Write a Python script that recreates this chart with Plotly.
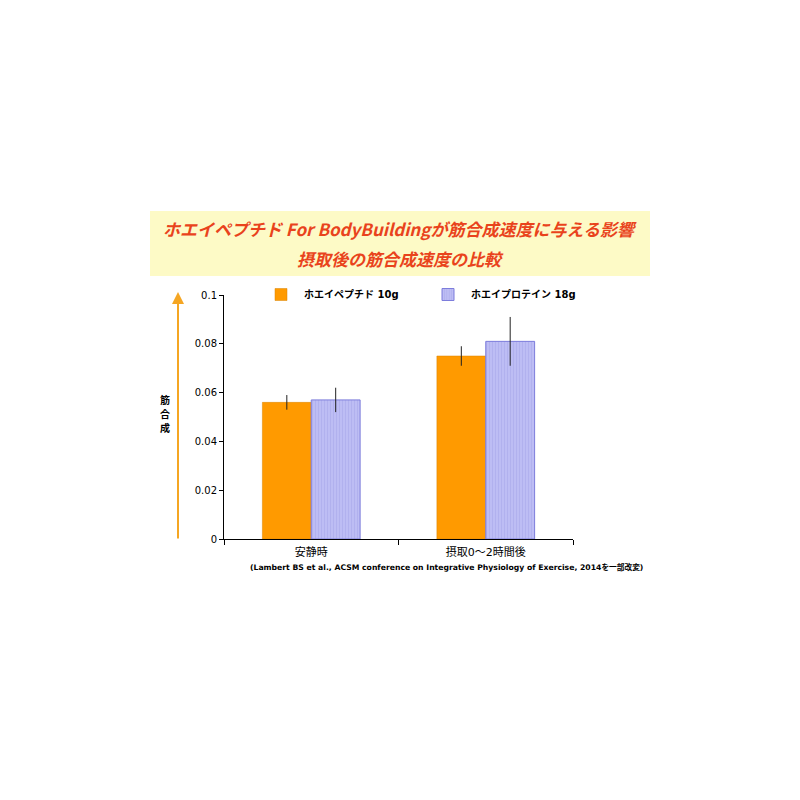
import plotly.graph_objects as go

# data
categories = ['安静時', '摂取0～2時間後']
peptide_vals = [0.056, 0.075]
peptide_err = [0.003, 0.004]
protein_vals = [0.057, 0.081]
protein_err = [0.005, 0.010]
y_ticks = [0, 0.02, 0.04, 0.06, 0.08, 0.1]
y_label = ['筋', '合', '成']

FONT = 'DejaVu Sans, Noto Sans CJK JP'
OFF = 8  # page body margin

# plot area in page pixels
L, R, T, B = 224, 573, 295, 539


def px(x):
    return (x - L) / (R - L)


def py(y):
    return (B - y) / (B - T)


fig = go.Figure()

fig.add_trace(go.Bar(
    x=categories,
    y=peptide_vals,
    name='<b>ホエイペプチド 10g</b>',
    marker=dict(color='#FF9A00', line=dict(color='#D98200', width=0.5)),
    error_y=dict(type='data', array=peptide_err, width=0, thickness=1, color='#222222'),
))

fig.add_trace(go.Bar(
    x=categories,
    y=protein_vals,
    name='<b>ホエイプロテイン 18g</b>',
    marker=dict(
        color='#B9B9F2',
        line=dict(color='#7D7DDC', width=1),
        pattern=dict(shape='|', bgcolor='#BDBDF4', fgcolor='#A3A3E6', size=3, solidity=0.3),
    ),
    error_y=dict(type='data', array=protein_err, width=0, thickness=1, color='#222222'),
))

# yellow title band
fig.add_shape(type='rect', xref='paper', yref='paper',
              x0=px(150), x1=px(650), y0=py(276), y1=py(211),
              fillcolor='#FDFAC6', line=dict(width=0), layer='below')


def note(text, x, y, size, color='#000000', family=FONT):
    fig.add_annotation(text=text, xref='paper', yref='paper', x=px(x), y=py(y),
                       xanchor='center', yanchor='middle', showarrow=False, borderpad=0,
                       font=dict(family=family, size=size, color=color))


note('<b><i>ホエイペプチド For BodyBuildingが筋合成速度に与える影響</i></b>', 400, 228, 17,
     '#E9431C', 'Noto Sans CJK JP')
note('<b><i>摂取後の筋合成速度の比較</i></b>', 400, 258, 17, '#E9431C', 'Noto Sans CJK JP')

# y label (stacked vertically) and orange arrow
for i, ch in enumerate(y_label):
    note('<b>' + ch + '</b>', 165, 399 + 14 * i, 10, family='Noto Sans CJK JP')
fig.add_annotation(text='', xref='paper', yref='paper', x=px(178), y=py(292),
                   ax=0, ay=248, showarrow=True, arrowhead=2, arrowsize=1.2,
                   arrowwidth=2, arrowcolor='#F5A623')

# citation
note('<b>(Lambert BS et al., ACSM conference on Integrative Physiology of Exercise, 2014を一部改変)</b>',
     446, 567, 7.7)

fig.update_layout(
    width=800, height=800,
    margin=dict(l=L - OFF, r=800 - R + OFF, t=T - OFF, b=800 - B + OFF, autoexpand=False),
    paper_bgcolor='white', plot_bgcolor='white',
    barmode='group', bargap=0.44, bargroupgap=0,
    font=dict(family=FONT, size=10, color='#000000'),
    legend=dict(orientation='h', x=px(258), y=py(280), xanchor='left', yanchor='top',
                font=dict(family=FONT, size=10), entrywidth=116, itemwidth=36,
                bgcolor='rgba(0,0,0,0)'),
    xaxis=dict(showline=True, linecolor='black', linewidth=1, ticks='outside',
               tickson='boundaries', ticklen=5, tickcolor='black',
               tickfont=dict(size=11), showgrid=False, ticklabelstandoff=3),
    yaxis=dict(range=[0, 0.1], tickvals=y_ticks, ticktext=[str(v) for v in y_ticks],
               showline=True, linecolor='black', linewidth=1, ticks='outside',
               ticklen=4, tickcolor='black', showgrid=False, zeroline=False,
               tickfont=dict(size=10)),
)

fig.write_html('out.html')
